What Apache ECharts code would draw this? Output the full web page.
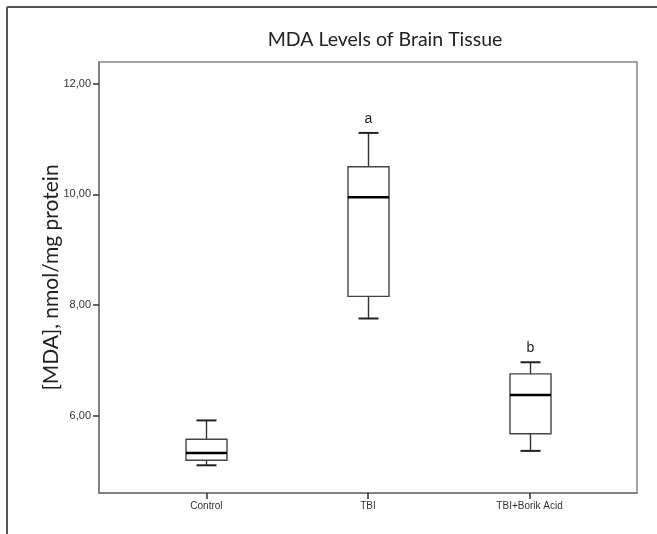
<!DOCTYPE html>
<html>
<head>
<meta charset="utf-8">
<script src="https://cdn.jsdelivr.net/npm/echarts@6/dist/echarts.min.js"></script>
<style>
html,body{margin:0;padding:0;background:#fff;}
#chart{width:657px;height:534px;}
</style>
</head>
<body>
<div id="chart"></div>
<script>
const categories = ['Control', 'TBI', 'TBI+Borik Acid'];
const minVals    = [5.11, 7.76, 5.37];
const q1Vals     = [5.20, 8.16, 5.68];
const medianVals = [5.33, 9.95, 6.38];
const q3Vals     = [5.58, 10.50, 6.76];
const maxVals    = [5.92, 11.11, 6.97];
const sigLabels  = ['', 'a', 'b'];
const yTicks     = [6, 8, 10, 12];
const catTicks   = [0, 1, 2];

const boxData = categories.map((c, i) => [i, minVals[i], q1Vals[i], medianVals[i], q3Vals[i], maxVals[i]]);

function renderItem(params, api) {
  const x = api.value(0);
  const pMin = api.coord([x, api.value(1)]);
  const pQ1 = api.coord([x, api.value(2)]);
  const pMed = api.coord([x, api.value(3)]);
  const pQ3 = api.coord([x, api.value(4)]);
  const pMax = api.coord([x, api.value(5)]);
  const cx = Math.round(pMed[0]) + 0.5;
  const hw = 20.5, cw = 10;
  const lineStyle = { stroke: '#333', lineWidth: 1.4 };
  const children = [
    { type: 'line', shape: { x1: cx, y1: pQ3[1], x2: cx, y2: pMax[1] }, style: lineStyle },
    { type: 'line', shape: { x1: cx - cw, y1: pMax[1], x2: cx + cw, y2: pMax[1] }, style: { stroke: '#222', lineWidth: 2 } },
    { type: 'line', shape: { x1: cx, y1: pQ1[1], x2: cx, y2: pMin[1] }, style: lineStyle },
    { type: 'line', shape: { x1: cx - cw, y1: pMin[1], x2: cx + cw, y2: pMin[1] }, style: { stroke: '#222', lineWidth: 2 } },
    { type: 'rect', shape: { x: cx - hw, y: pQ3[1], width: hw * 2, height: pQ1[1] - pQ3[1] }, style: { fill: '#fff', stroke: '#444', lineWidth: 1.4 } },
    { type: 'line', shape: { x1: cx - hw, y1: pMed[1], x2: cx + hw, y2: pMed[1] }, style: { stroke: '#000', lineWidth: 2.5 } }
  ];
  const lab = sigLabels[params.dataIndex];
  if (lab) {
    children.push({ type: 'text', x: cx, y: pMax[1] - 7, style: { text: lab, fill: '#222', font: '14px "Liberation Sans", Arial, sans-serif', align: 'center', verticalAlign: 'bottom' } });
  }
  return { type: 'group', children: children };
}

const chart = echarts.init(document.getElementById('chart'), null, { renderer: 'canvas' });
chart.setOption({
  animation: false,
  backgroundColor: '#fff',
  title: {
    text: 'MDA Levels of Brain Tissue',
    left: 380, top: 25, textAlign: 'center',
    textStyle: { fontFamily: 'Lato', fontSize: 19.5, fontWeight: 'normal', color: '#222' }
  },
  graphic: [
    { type: 'line', shape: { x1: 7, y1: 7, x2: 657, y2: 7 }, style: { stroke: '#555', lineWidth: 2 } },
    { type: 'line', shape: { x1: 7, y1: 7, x2: 7, y2: 534 }, style: { stroke: '#555', lineWidth: 2 } }
  ],
  grid: {
    left: 99, top: 62, right: 20, bottom: 41,
    show: true, borderColor: '#888', borderWidth: 1.5, backgroundColor: 'transparent'
  },
  xAxis: {
    type: 'value', min: -0.665, max: 2.665,
    axisLine: { show: true, onZero: false, lineStyle: { color: '#777', width: 1.5 } },
    axisTick: { show: true, customValues: catTicks, length: 6, lineStyle: { color: '#333', width: 1.5 } },
    axisLabel: { customValues: catTicks, formatter: v => categories[Math.round(v)] || '', fontFamily: '"Liberation Sans", Arial, sans-serif', fontSize: 10, color: '#333', margin: 8 },
    splitLine: { show: false }
  },
  yAxis: {
    type: 'value', min: 4.61, max: 12.39,
    name: '[MDA], nmol/mg protein', nameLocation: 'middle', nameGap: 37, nameMoveOverlap: false,
    nameTextStyle: { fontFamily: 'Lato', fontSize: 21, color: '#222' },
    axisLine: { show: true, onZero: false, lineStyle: { color: '#777', width: 1.5 } },
    axisTick: { show: true, customValues: yTicks, length: 6, lineStyle: { color: '#333', width: 1.5 } },
    axisLabel: { customValues: yTicks, formatter: v => v.toFixed(2).replace('.', ','), fontFamily: '"Liberation Sans", Arial, sans-serif', fontSize: 11, color: '#333', margin: 8 },
    splitLine: { show: false }
  },
  series: [{
    type: 'custom',
    renderItem: renderItem,
    encode: { x: 0, y: [1, 2, 3, 4, 5] },
    data: boxData
  }]
});
</script>
</body>
</html>
